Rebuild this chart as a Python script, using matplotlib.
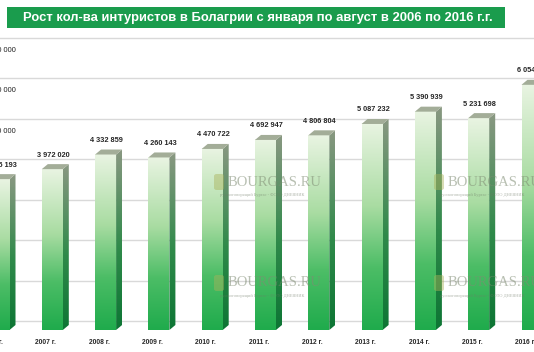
import numpy as np
import matplotlib
matplotlib.use("Agg")
import matplotlib.pyplot as plt
from matplotlib.colors import LinearSegmentedColormap
from matplotlib.patches import Polygon, Rectangle, FancyBboxPatch

# ── Данные ─────────────────────────────────────────────
years = ["2006 г.", "2007 г.", "2008 г.", "2009 г.", "2010 г.", "2011 г.",
         "2012 г.", "2013 г.", "2014 г.", "2015 г.", "2016 г."]
tourists = [3725193, 3972020, 4332859, 4260143, 4470722, 4692947,
            4806804, 5087232, 5390939, 5231698, 6054000]
grid_vals = [0, 1e6, 2e6, 3e6, 4e6, 5e6, 6e6, 7e6]
ytick_vals = [5e6, 6e6, 7e6]
ytick_labels = ["5 000 000", "6 000 000", "7 000 000"]
title = "Рост кол-ва интуристов в Болагрии с января по август в 2006 по 2016 г.г."

# ── Геометрия (пиксели картинки 534x352) ───────────────
W, H = 534, 352
CAT_PX = 53.3        # шаг между столбцами
X0_PX = -1.0         # центр первого столбца
Y0_PX = 330.0        # низ столбцов
PX_PER_M = 40.5      # пикселей на 1 000 000

def to_data(xp, yp):
    return (xp - X0_PX) / CAT_PX, (Y0_PX - yp) / PX_PER_M * 1e6

bar_w = 21 / CAT_PX
dx = 6 / CAT_PX
dy = 5 / PX_PER_M * 1e6
grid_dy = 9 / PX_PER_M * 1e6

front_cmap = LinearSegmentedColormap.from_list(
    "front", [(0.0, "#1fab4c"), (0.3, "#4cbd66"), (0.6, "#a9dca2"), (1.0, "#e9f4e2")])
side_cmap = LinearSegmentedColormap.from_list(
    "side", [(0.0, "#0d7534"), (0.45, "#2f8a4a"), (1.0, "#8a9882")])
grad = np.linspace(0, 1, 256).reshape(-1, 1)

fig = plt.figure(figsize=(W / 100, H / 100), dpi=100)
fig.patch.set_facecolor("white")
ax = fig.add_axes([0, 0, 1, 1])
ax.set_axis_off()

# сетка на задней стенке
for g in grid_vals:
    ax.axhline(g + grid_dy, color="#d9d9d9", linewidth=1.0, zorder=1)

# подписи оси Y (частично обрезаны краем)
for v, lab in zip(ytick_vals, ytick_labels):
    ax.annotate(lab, xy=(to_data(16, 0)[0], v), xytext=(0, -3.5),
                textcoords="offset pixels", ha="right", va="center",
                fontsize=5.3, color="#222222", family="Liberation Sans",
                annotation_clip=False, zorder=2)

# водяные знаки
for (xp, yp) in [(228, 182), (448, 182), (228, 283), (448, 283)]:
    tx, ty = to_data(xp, yp)
    ax.text(tx, ty, "BOURGAS.RU", fontsize=10.5, family="Liberation Serif",
            color="#7f8c73", alpha=0.55, ha="left", va="center", zorder=6)
    sx, sy = to_data(xp - 8, yp + 13)
    ax.text(sx, sy, "русскоговорящий Бургас - ФОТО ДНЕВНИК", fontsize=3.2,
            family="Liberation Serif", color="#6f7a66", alpha=0.55,
            ha="left", va="center", zorder=6)
    ex, ey = to_data(xp - 14, yp + 8)
    ax.add_patch(FancyBboxPatch((ex, ey), 10 / CAT_PX, 16 / PX_PER_M * 1e6,
                                boxstyle="round,pad=0,rounding_size=0.05",
                                mutation_aspect=1e6 / 1.0,
                                facecolor="#a9b25a", edgecolor="none",
                                alpha=0.45, zorder=6))

# столбцы с градиентом (псевдо-3D)
for i, v in enumerate(tourists):
    x0, x1 = i - bar_w / 2, i + bar_w / 2
    ax.imshow(grad, extent=(x0, x1, 0, v), origin="lower", cmap=front_cmap,
              aspect="auto", zorder=3, interpolation="bilinear")
    side = Polygon([(x1, 0), (x1 + dx, dy), (x1 + dx, v + dy), (x1, v)],
                   closed=True, facecolor="none", edgecolor="none")
    ax.add_patch(side)
    im = ax.imshow(grad, extent=(x1, x1 + dx, 0, v + dy), origin="lower",
                   cmap=side_cmap, aspect="auto", zorder=3, interpolation="bilinear")
    im.set_clip_path(side)
    ax.add_patch(Polygon([(x0, v), (x1, v), (x1 + dx, v + dy), (x0 + dx, v + dy)],
                         closed=True, facecolor="#a3ad98", edgecolor="none", zorder=4))
    ax.annotate(f"{v:,}".replace(",", " "), xy=(i, v), xytext=(1, 14),
                textcoords="offset pixels", ha="center", va="center",
                fontsize=5.3, fontweight="bold", color="#262626",
                family="Liberation Sans", annotation_clip=False, zorder=5)
    ax.annotate(years[i], xy=(i, 0), xytext=(-6.5, -13),
                textcoords="offset pixels", ha="center", va="center",
                fontsize=4.8, fontweight="bold", color="#262626",
                family="Liberation Sans", annotation_clip=False, zorder=5)

ax.set_xlim(to_data(0, 0)[0], to_data(W, 0)[0])
ax.set_ylim(to_data(0, H)[1], to_data(0, 0)[1])

# заголовок на зелёной плашке
fig.patches.append(Rectangle((7 / W, 1 - 28 / H), (505 - 7) / W, 21 / H,
                             transform=fig.transFigure, facecolor="#1a9c4d",
                             edgecolor="none", zorder=10))
fig.text(258 / W, 1 - 17.5 / H, title, ha="center", va="center", color="white",
         fontsize=9.4, fontweight="bold", family="Liberation Sans", zorder=11)

fig.savefig("out.png", dpi=100)
